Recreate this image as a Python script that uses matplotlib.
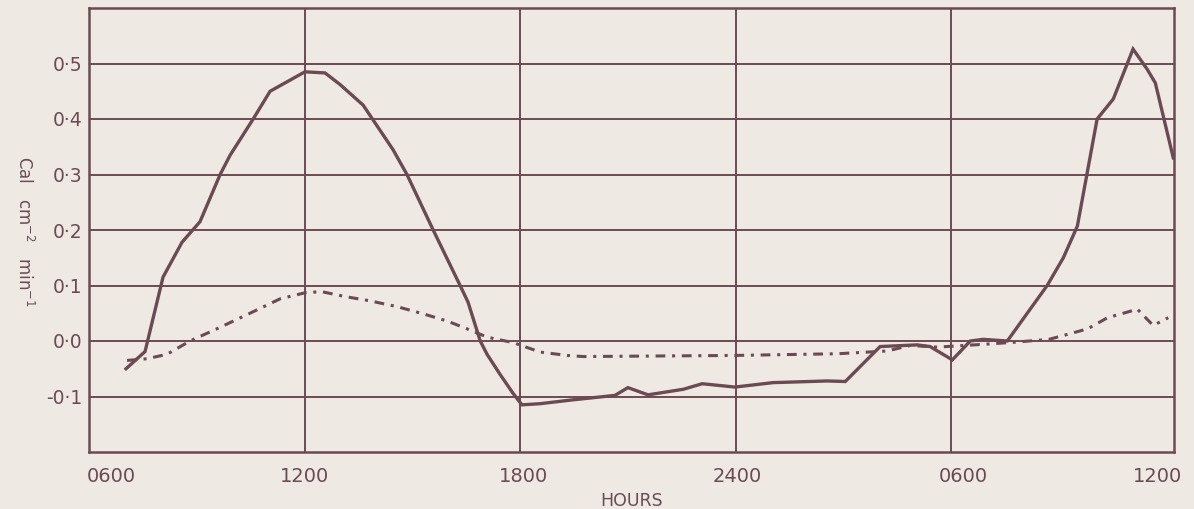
import matplotlib
matplotlib.use("Agg")
import matplotlib.pyplot as plt
import matplotlib.transforms as mtransforms

# Time axis: hours elapsed since 0600 on the first day
net_hours = [1.03, 1.56, 2.06, 2.59, 3.09, 3.65, 3.93, 4.57, 5.04, 6.01, 6.57, 6.99,
             7.63, 8.46, 8.85, 9.58, 10.33, 10.55, 10.89, 11.08, 11.44, 11.80, 12.05,
             12.55, 13.47, 14.64, 15.00, 15.56, 16.54, 17.07, 17.98, 19.04, 20.55,
             21.05, 22.02, 23.05, 23.41, 24.03, 24.53, 24.89, 25.56, 26.67, 27.12,
             27.51, 28.06, 28.51, 29.06, 29.45, 29.68, 30.18]
net_values = [-0.050, -0.019, 0.115, 0.178, 0.215, 0.300, 0.335, 0.400, 0.450, 0.485,
              0.483, 0.462, 0.425, 0.345, 0.300, 0.200, 0.100, 0.070, 0.000, -0.024,
              -0.060, -0.094, -0.115, -0.113, -0.106, -0.098, -0.084, -0.097, -0.087,
              -0.077, -0.083, -0.075, -0.072, -0.073, -0.010, -0.007, -0.010, -0.034,
              0.000, 0.003, 0.000, 0.100, 0.150, 0.207, 0.400, 0.436, 0.526, 0.490,
              0.465, 0.330]

flux_hours = [1.06, 1.61, 2.17, 2.81, 3.56, 4.48, 5.32, 6.02, 6.47, 7.13, 7.77, 8.57,
              9.30, 9.97, 10.52, 11.08, 11.81, 12.56, 13.31, 13.75, 17.98, 19.85,
              20.83, 22.22, 22.86, 23.61, 24.89, 25.80, 26.72, 27.24, 27.80, 28.35,
              29.06, 29.17, 29.62, 30.04]
flux_values = [-0.035, -0.032, -0.024, 0.000, 0.022, 0.050, 0.076, 0.087, 0.089, 0.080,
               0.073, 0.062, 0.049, 0.036, 0.022, 0.007, -0.003, -0.020, -0.026, -0.028,
               -0.026, -0.024, -0.023, -0.018, -0.008, -0.011, -0.006, -0.002, 0.003,
               0.012, 0.022, 0.042, 0.055, 0.058, 0.028, 0.042]

x_ticks = [0, 6, 12, 18, 24, 30]
x_labels = ["0600", "1200", "1800", "2400", "0600", "1200"]
y_ticks = [-0.1, 0.0, 0.1, 0.2, 0.3, 0.4, 0.5]
y_labels = ["-0·1", "0·0", "0·1", "0·2", "0·3", "0·4", "0·5"]

ink = "#6c4a54"
paper = "#eeeae3"

fig = plt.figure(figsize=(11.94, 5.09), dpi=100, facecolor=paper)
ax = fig.add_axes([89 / 1194, 1 - 452 / 509, (1174 - 89) / 1194, (452 - 8) / 509])
ax.set_facecolor(paper)

ax.set_xlim(0, 30.2)
ax.set_ylim(-0.2, 0.6)

ax.set_xticks(x_ticks)
ax.set_xticklabels(x_labels)
ax.set_yticks(y_ticks)
ax.set_yticklabels(y_labels)

ax.tick_params(axis="both", length=0, colors=ink)
ax.tick_params(axis="x", pad=11, labelsize=14)
ax.tick_params(axis="y", pad=5, labelsize=13.5)

ax.grid(True, color=ink, linewidth=1.4)
ax.set_axisbelow(True)
# the last hour mark sits on the frame itself, so its grid line is not needed
ax.xaxis.get_gridlines()[-1].set_visible(False)
ax.xaxis.get_gridlines()[0].set_visible(False)
for side in ax.spines.values():
    side.set_color(ink)
    side.set_linewidth(1.8)

# Nudge the x labels the way they were lettered on the sheet
offsets_px = [22, 0, 3, 2, 12, -9]
for lab, dx in zip(ax.get_xticklabels(), offsets_px):
    lab.set_transform(lab.get_transform() +
                      mtransforms.ScaledTranslation(dx / 100, 0, fig.dpi_scale_trans))

ax.plot(net_hours, net_values, color=ink, linewidth=2.4, solid_joinstyle="miter",
        zorder=3)
ax.plot(flux_hours, flux_values, color=ink, linewidth=2.2,
        linestyle=(0, (3.2, 2.2, 1.0, 2.2)), zorder=3)

ax.set_xlabel("HOURS", color=ink, fontsize=12.5, labelpad=4)
fig.text(24 / 1194, 1 - 231 / 509, "Cal   cm$^{-2}$   min$^{-1}$", rotation=-90,
         ha="center", va="center", color=ink, fontsize=12)

fig.savefig("out.png", dpi=100, facecolor=paper)
